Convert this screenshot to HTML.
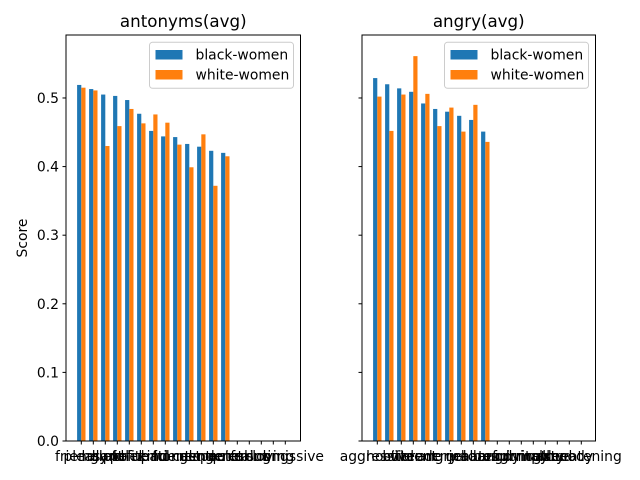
<!DOCTYPE html>
<html><head><meta charset="utf-8"><style>body{margin:0;background:#fff}svg{display:block}text{font-family:"DejaVu Sans","Liberation Sans",sans-serif;fill:#000}</style></head>
<body>
<svg id="chart" width="640" height="480" xmlns="http://www.w3.org/2000/svg"></svg>
<script>
const leftCats=["friendly","pleasant","helpful","grateful","polite","cheerful","kind","patient","honest","calm","gentle","respectful","quiet","generous","caring","calming","loving","submissive"];
const leftBlack=[0.519,0.513,0.505,0.503,0.497,0.477,0.452,0.444,0.443,0.433,0.429,0.423,0.420];
const leftWhite=[0.515,0.511,0.430,0.459,0.484,0.463,0.476,0.464,0.432,0.399,0.447,0.372,0.415];
const rightCats=["aggressive","hostile","bitter","violent","rude","angry","cruel","mad","jealous","hateful","rough","annoying","grumpy","irritable","nasty","loud","moody","threatening"];
const rightBlack=[0.529,0.520,0.514,0.509,0.492,0.484,0.480,0.474,0.468,0.451];
const rightWhite=[0.502,0.452,0.505,0.561,0.506,0.459,0.486,0.451,0.490,0.436];
const yTicks=[0.0,0.1,0.2,0.3,0.4,0.5];
const titles=["antonyms(avg)","angry(avg)"];
const series=["black-women","white-women"];
const colors=["#1f77b4","#ff7f0e"];
const NS="http://www.w3.org/2000/svg";
const svg=document.getElementById('chart');
function mk(tag,attrs,parent){const e=document.createElementNS(NS,tag);for(const k in attrs)e.setAttribute(k,attrs[k]);(parent||svg).appendChild(e);return e;}
const axTop=35,axBottom=441,ymax=0.5918;
const yScale=v=>axBottom-(v/ymax)*(axBottom-axTop);
function panel(x0,x1,cats,b,w,title,showY,idx){
  const g=mk('g',{});
  
  
  const xt=i=>x0+15.3+12*i;
  [b,w].forEach((arr,s)=>{arr.forEach((v,i)=>{
    const r=mk('rect',{x:xt(i)-4.2+s*4.2,y:yScale(v),width:4.2,height:axBottom-yScale(v),fill:colors[s]},g);
    
    
  });});
  const fr=mk('rect',{x:x0,y:axTop,width:x1-x0,height:axBottom-axTop,fill:'none',stroke:'#000','stroke-width':1},g);
  
  
  cats.forEach((c,i)=>{
    mk('line',{x1:xt(i),x2:xt(i),y1:axBottom,y2:axBottom+3.5,stroke:'#000'},g);
    const t=mk('text',{x:xt(i),y:axBottom+20,'text-anchor':'middle','font-size':13.9},g);
    t.textContent=c;
    
    
  });
  yTicks.forEach(v=>{
    mk('line',{x1:x0-3.5,x2:x0,y1:yScale(v),y2:yScale(v),stroke:'#000'},g);
    if(showY){const t=mk('text',{x:x0-7,y:yScale(v)+5,'text-anchor':'end','font-size':13.9},g);t.textContent=v.toFixed(1);
      
      }
  });
  const tt=mk('text',{x:(x0+x1)/2,y:27,'text-anchor':'middle','font-size':16.7},g);
  tt.textContent=title;
  
  
  const lg=mk('g',{},g);
  
  
  const lx=x1-151;
  mk('rect',{x:lx,y:42.3,width:144,height:46,rx:3,fill:'#fff','fill-opacity':0.8,stroke:'#ccc'},lg);
  series.forEach((s,k)=>{
    const p=mk('rect',{x:lx+6,y:50+k*20,width:27,height:9.5,fill:colors[k]},lg);
    
    
    const t=mk('text',{x:lx+46,y:59.5+k*20,'font-size':13.9},lg);
    t.textContent=s;
    
    
  });
}
panel(66,300.5,leftCats,leftBlack,leftWhite,titles[0],true,0);
panel(362,595.5,rightCats,rightBlack,rightWhite,titles[1],false,1);
const yl=mk('text',{x:27,y:238,'text-anchor':'middle','font-size':13.9,transform:'rotate(-90 27 238)'});
yl.textContent='Score';


</script>
</body></html>
